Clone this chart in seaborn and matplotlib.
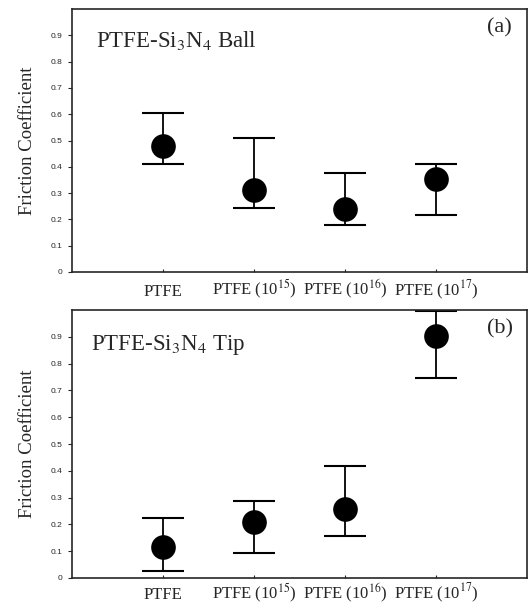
import numpy as np
import pandas as pd
import matplotlib
matplotlib.use("Agg")
import matplotlib.pyplot as plt
import seaborn as sns

sns.set_style("ticks")
plt.rcParams['font.family'] = ['Liberation Serif', 'DejaVu Serif']
plt.rcParams['mathtext.fontset'] = 'stix'

samples = ['PTFE', 'PTFE (10$^{15}$)', 'PTFE (10$^{16}$)', 'PTFE (10$^{17}$)']

# panel (a): PTFE - Si3N4 ball
ball_mean = [0.48, 0.31, 0.24, 0.355]
ball_low = [0.41, 0.245, 0.18, 0.215]
ball_high = [0.605, 0.51, 0.378, 0.41]

# panel (b): PTFE - Si3N4 tip
tip_mean = [0.115, 0.21, 0.258, 0.905]
tip_low = [0.027, 0.094, 0.158, 0.748]
tip_high = [0.222, 0.287, 0.418, 0.998]

yticks = [0, 0.1, 0.2, 0.3, 0.4, 0.5, 0.6, 0.7, 0.8, 0.9]
ytick_labels = ['0', '0.1', '0.2', '0.3', '0.4', '0.5', '0.6', '0.7', '0.8', '0.9']

fig = plt.figure(figsize=(5.29, 6.07), dpi=100)
ax_a = fig.add_axes([0.136, 0.552, 0.86, 0.433])
ax_b = fig.add_axes([0.136, 0.048, 0.86, 0.441])

panels = [
    (ax_a, ball_mean, ball_low, ball_high, 'PTFE-Si$_3$N$_4$ Ball', '(a)', 0.052, 0.88, 17),
    (ax_b, tip_mean, tip_low, tip_high, 'PTFE-Si$_3$N$_4$ Tip', '(b)', 0.042, 0.87, 15),
]

for ax, mean, low, high, title, tag, tx, ty, xpad in panels:
    df = pd.DataFrame({'x': np.arange(len(samples)), 'mu': mean,
                       'lo': low, 'hi': high})
    ax.errorbar(df['x'], df['mu'],
                yerr=[df['mu'] - df['lo'], df['hi'] - df['mu']],
                fmt='none', ecolor='black', elinewidth=1.3,
                capsize=15, capthick=1.5, zorder=2)
    sns.scatterplot(data=df, x='x', y='mu', ax=ax, s=270, color='black',
                    edgecolor='black', zorder=3, legend=False)
    ax.set_xlim(-1, 4)
    ax.set_ylim(0, 1.0)
    ax.set_xticks(range(len(samples)))
    ax.set_xticklabels(samples, fontsize=12)
    for lbl in ax.get_xticklabels():
        lbl.set_verticalalignment('baseline')
    ax.set_yticks(yticks)
    ax.set_yticklabels(ytick_labels, fontsize=6, family='Liberation Sans')
    ax.tick_params(axis='y', length=3, width=0.8, pad=4)
    ax.tick_params(axis='x', direction='in', length=2, width=0.8, pad=xpad)
    ax.set_xlabel('')
    ax.set_ylabel('Friction Coefficient', fontsize=13.5, labelpad=10)
    for sp in ax.spines.values():
        sp.set_visible(True)
        sp.set_linewidth(1.2)
    ax.text(tx, ty, title, transform=ax.transAxes, fontsize=16.5,
            va='center', ha='left')
    ax.text(0.94, 0.93, tag, transform=ax.transAxes, fontsize=16,
            va='center', ha='center')

fig.savefig('out.png', dpi=100)
